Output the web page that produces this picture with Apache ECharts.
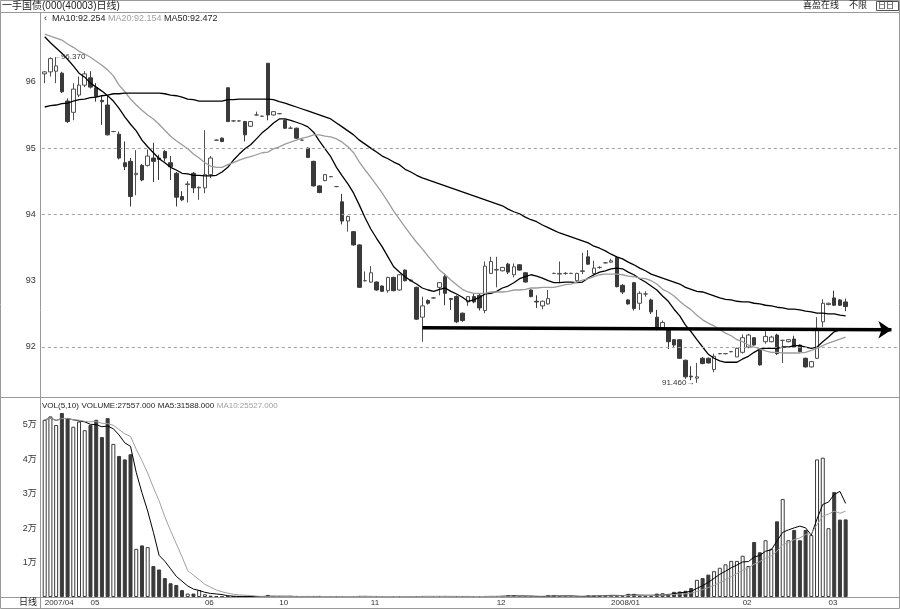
<!DOCTYPE html>
<html><head><meta charset="utf-8">
<script src="https://cdn.jsdelivr.net/npm/echarts@6/dist/echarts.min.js"></script>
<style>html,body{margin:0;padding:0;background:#fff}#c{width:900px;height:609px}</style>
</head><body><div id="c"></div>
<script>
// ---------- data ----------
const opens = [96.12,96.15,96.16,96.13,95.71,95.54,95.80,95.95,96.06,95.91,
95.72,95.65,95.25,95.21,94.78,94.80,94.60,94.74,94.74,94.85,
94.85,94.95,94.78,94.62,94.27,94.45,94.62,94.40,94.40,94.60,
95.12,95.15,95.91,95.41,95.41,95.40,95.33,95.50,95.48,96.28,
95.50,95.52,95.42,95.30,95.30,95.12,95.00,94.80,94.43,94.51,
94.57,94.42,94.19,93.90,93.74,93.54,93.00,92.98,92.98,92.92,
92.85,93.05,92.86,93.16,93.00,92.90,92.45,92.70,92.74,92.90,
93.06,92.73,92.76,92.51,92.68,92.76,92.78,92.55,93.11,93.16,
93.15,93.25,93.09,93.24,93.12,92.86,92.69,92.62,92.65,93.11,
93.10,93.11,93.11,93.00,93.14,93.36,93.11,93.20,93.27,93.28,
93.35,92.93,92.71,92.97,92.66,92.80,92.71,92.45,92.28,92.26,
92.11,92.11,91.80,91.56,91.53,91.83,91.83,91.66,91.90,91.90,
91.93,91.85,91.92,92.00,92.14,91.95,92.08,92.08,92.18,92.10,
92.08,92.12,92.03,91.83,91.70,91.83,92.38,92.64,92.74,92.71,
92.68];
const closes = [96.15,96.35,96.24,95.85,95.40,95.89,95.95,96.12,95.92,95.78,
95.70,95.20,95.25,94.85,94.72,94.27,94.62,94.52,94.88,94.80,
94.83,94.85,94.72,94.26,94.22,94.46,94.40,94.41,94.60,94.85,
95.12,95.10,95.40,95.41,95.41,95.20,95.40,95.50,95.48,95.50,
95.55,95.52,95.30,95.30,95.15,95.12,94.86,94.43,94.33,94.60,
94.57,94.42,93.90,93.97,93.54,92.90,93.00,93.12,92.86,92.84,
93.05,92.85,93.09,93.00,93.01,92.42,92.62,92.66,92.74,92.97,
92.81,92.72,92.38,92.40,92.76,92.68,92.59,93.22,93.29,93.17,
93.20,93.13,93.21,93.16,92.98,92.76,92.68,92.69,92.73,93.11,
93.11,93.11,93.11,93.11,93.15,93.25,93.19,93.20,93.27,93.30,
92.91,92.83,92.65,92.58,92.81,92.80,92.53,92.28,92.37,92.08,
92.03,91.83,91.55,91.55,91.55,91.75,91.76,91.86,91.90,91.90,
91.93,91.98,92.14,92.18,92.03,91.73,92.16,92.15,91.90,92.10,
92.11,92.00,91.93,91.70,91.78,92.26,92.66,92.66,92.63,92.63,
92.61];
const lows = [95.98,96.08,95.98,95.83,95.38,95.42,95.77,95.92,95.90,95.70,
95.35,95.19,95.24,94.83,94.67,94.12,94.29,94.50,94.72,94.49,
94.52,94.80,94.52,94.12,94.20,94.18,94.32,94.22,94.32,94.55,
95.11,95.09,95.40,95.40,95.40,95.10,95.32,95.49,95.47,95.42,
95.49,95.51,95.29,95.29,95.14,95.11,94.85,94.42,94.32,94.50,
94.56,94.41,93.85,93.74,93.53,92.89,92.99,92.97,92.85,92.83,
92.82,92.84,92.85,92.99,92.99,92.41,92.08,92.64,92.73,92.78,
92.63,92.56,92.36,92.38,92.62,92.66,92.55,92.51,93.10,92.90,
93.14,93.10,93.05,93.15,92.97,92.75,92.59,92.57,92.64,93.10,
92.97,93.09,93.10,92.98,93.10,93.24,93.08,93.18,93.26,93.27,
92.90,92.80,92.64,92.55,92.56,92.76,92.50,92.25,92.27,91.97,
92.00,91.82,91.52,91.50,91.46,91.74,91.75,91.62,91.89,91.89,
91.92,91.85,91.90,91.98,92.02,91.72,92.05,92.07,91.88,91.76,
92.07,91.99,91.92,91.69,91.69,91.82,92.30,92.63,92.62,92.62,
92.54];
const highs = [96.16,96.37,96.36,96.15,95.75,95.98,96.08,96.16,96.16,95.98,
95.80,95.80,95.26,95.25,95.10,94.85,94.97,94.76,94.98,95.08,
94.90,94.97,94.88,94.64,94.35,94.50,94.64,94.42,95.27,94.88,
95.13,95.16,95.92,95.42,95.42,95.41,95.41,95.55,95.49,96.28,
95.56,95.53,95.43,95.33,95.31,95.13,95.01,94.81,94.44,94.61,
94.58,94.43,94.31,93.98,93.75,93.55,93.14,93.22,92.99,92.93,
93.06,93.06,93.10,93.17,93.02,92.91,92.76,92.72,92.75,92.98,
93.11,92.74,92.78,92.52,92.77,92.80,92.80,93.29,93.36,93.36,
93.21,93.27,93.26,93.25,93.13,92.87,92.78,92.70,92.86,93.12,
93.29,93.13,93.12,93.12,93.42,93.46,93.30,93.22,93.28,93.33,
93.37,92.95,92.72,92.98,92.84,92.84,92.73,92.56,92.40,92.27,
92.12,92.12,91.81,91.71,91.76,91.85,91.84,91.90,91.91,91.91,
91.94,91.99,92.19,92.20,92.15,91.96,92.24,92.17,92.20,92.11,
92.12,92.17,92.04,91.84,91.79,92.45,92.72,92.67,92.85,92.72,
92.73];
const ma10 = [96.68,96.59,96.51,96.43,96.34,96.24,96.13,96.07,95.98,95.92,
95.86,95.79,95.71,95.60,95.47,95.36,95.26,95.12,95.02,94.93,
94.84,94.78,94.71,94.67,94.62,94.61,94.59,94.59,94.58,94.58,
94.59,94.64,94.71,94.82,94.91,94.99,95.05,95.14,95.23,95.30,
95.38,95.44,95.44,95.42,95.39,95.36,95.32,95.24,95.11,94.99,
94.87,94.71,94.58,94.46,94.32,94.14,93.95,93.78,93.64,93.51,
93.36,93.21,93.13,93.06,93.00,92.95,92.89,92.86,92.84,92.87,
92.89,92.84,92.80,92.75,92.69,92.71,92.75,92.80,92.81,92.84,
92.89,92.92,92.97,93.03,93.06,93.09,93.07,93.04,93.00,92.97,
92.97,92.98,92.98,92.97,92.98,93.04,93.09,93.13,93.15,93.18,
93.19,93.18,93.13,93.09,93.03,92.98,92.92,92.86,92.77,92.69,
92.57,92.47,92.33,92.23,92.11,92.00,91.89,91.83,91.79,91.77,
91.77,91.77,91.82,91.86,91.92,91.97,91.98,91.98,91.98,92.00,
92.00,92.02,92.02,92.00,91.98,92.00,92.08,92.15,92.23,92.26,
92.25];
const ma20 = [96.72,96.69,96.66,96.63,96.57,96.52,96.46,96.42,96.37,96.31,
96.25,96.18,96.09,95.95,95.85,95.74,95.65,95.57,95.50,95.44,
95.36,95.27,95.18,95.11,95.05,94.99,94.91,94.85,94.78,94.73,
94.71,94.71,94.75,94.78,94.82,94.85,94.87,94.90,94.93,94.94,
94.99,95.02,95.06,95.09,95.12,95.15,95.17,95.20,95.20,95.18,
95.17,95.14,95.09,95.02,94.93,94.79,94.67,94.56,94.44,94.32,
94.19,94.05,93.93,93.81,93.69,93.58,93.48,93.37,93.27,93.16,
93.09,93.01,92.94,92.87,92.83,92.81,92.81,92.81,92.83,92.83,
92.83,92.84,92.86,92.86,92.87,92.89,92.89,92.90,92.90,92.90,
92.92,92.94,92.95,92.98,93.01,93.03,93.06,93.09,93.10,93.10,
93.10,93.09,93.07,93.06,93.04,93.03,93.00,92.95,92.87,92.83,
92.77,92.69,92.62,92.56,92.48,92.41,92.36,92.32,92.26,92.21,
92.17,92.11,92.08,92.03,92.00,91.97,91.94,91.92,91.92,91.91,
91.91,91.91,91.91,91.92,91.95,91.98,92.02,92.06,92.09,92.12,
92.15];
const ma50 = [95.62,95.64,95.65,95.67,95.68,95.71,95.73,95.74,95.76,95.77,
95.79,95.80,95.82,95.82,95.83,95.83,95.83,95.83,95.83,95.83,
95.83,95.82,95.80,95.79,95.77,95.74,95.73,95.71,95.71,95.71,
95.71,95.71,95.73,95.73,95.74,95.74,95.74,95.74,95.74,95.74,
95.73,95.70,95.68,95.65,95.62,95.59,95.56,95.53,95.50,95.47,
95.44,95.38,95.32,95.26,95.20,95.12,95.06,95.00,94.94,94.88,
94.84,94.79,94.75,94.68,94.64,94.59,94.55,94.52,94.49,94.46,
94.43,94.40,94.37,94.34,94.31,94.28,94.25,94.22,94.19,94.16,
94.13,94.08,94.04,94.01,93.96,93.92,93.89,93.84,93.80,93.76,
93.72,93.69,93.66,93.63,93.60,93.57,93.52,93.49,93.45,93.40,
93.36,93.33,93.28,93.24,93.19,93.15,93.10,93.07,93.04,93.01,
92.98,92.95,92.90,92.87,92.84,92.83,92.80,92.77,92.74,92.72,
92.71,92.69,92.68,92.68,92.66,92.65,92.63,92.62,92.60,92.59,
92.57,92.57,92.56,92.54,92.53,92.51,92.51,92.50,92.50,92.48,
92.47];
const volumes = [51500,52500,50000,53500,52000,49500,51000,48500,50000,51500,
46500,52000,44500,41000,40000,41500,14000,15000,14500,9000,
8000,5500,4000,3500,2000,1000,1000,2000,800,400,
200,150,300,100,100,200,100,150,100,600,
100,100,150,100,150,100,150,200,150,100,
100,100,200,150,150,250,150,100,100,100,
100,150,100,150,100,200,250,150,100,150,
200,150,150,100,150,100,150,250,200,150,
300,500,500,100,100,100,100,200,600,600,
150,150,150,150,150,500,500,500,400,500,
400,300,900,900,200,200,300,1000,1100,900,
1500,1600,1800,2600,5000,5500,6500,7500,8500,9500,
10500,10500,12000,9000,16000,13000,16500,14000,22000,28500,
16500,19500,16500,19500,18000,40000,40500,20000,30500,22500,
22557];
const priceTicks = [92, 93, 94, 95, 96];
const priceGridLines = [92, 94, 95];
const volTicks = [10000, 20000, 30000, 40000, 50000];
const dateTickIndex = [0, 8, 28, 41, 57, 79, 99, 122, 137];
const dateTickText = ['2007/04', '05', '06', '10', '11', '12', '2008/01', '02', '03'];
const maLegend = ['MA10:92.254', 'MA20:92.154', 'MA50:92.472'];
const volLegend = ['VOL(5,10)', 'VOLUME:27557.000', 'MA5:31588.000', 'MA10:25527.000'];
const trendArrow = [[66, 92.29], [148, 92.26]];
const highMark = [1, 96.37, '96.370'];
const lowMark = [114, 91.46, '91.460'];
const padCount = 9;
const titleText = '一手国债(000(40003)日线)';

// ---------- build ----------
const N = opens.length;
const cats = [];
for (let i = 0; i < N + padCount; i++) cats.push(String(i));
const padArr = a => a.concat(new Array(padCount).fill('-'));
const candleData = opens.map((o, i) => [o, closes[i], lows[i], highs[i]]);
function movingAvg(arr, n) {
  return arr.map((_, i) => {
    const s = Math.max(0, i - n + 1); let t = 0;
    for (let k = s; k <= i; k++) t += arr[k];
    return +(t / (i - s + 1)).toFixed(1);
  });
}
const volMA5 = movingAvg(volumes, 5), volMA10 = movingAvg(volumes, 10);
const DARK = '#3a3a3a';
const volData = volumes.map((v, i) => {
  const up = closes[i] >= opens[i];
  return { value: v, itemStyle: { color: up ? '#ffffff' : DARK, borderColor: DARK, borderWidth: 1 } };
});
const FONT = '"Liberation Sans","Noto Sans CJK SC",sans-serif';
const GL = 41.84;
const chart = echarts.init(document.getElementById('c'), null, { renderer: 'canvas' });
const line = (x1, y1, x2, y2, c) => ({ type: 'line', silent: true, z: 50, shape: { x1, y1, x2, y2 }, style: { stroke: c || '#9a9a9a', lineWidth: 1 } });
const txt = (x, y, t, o) => ({ type: 'text', silent: true, z: 60, x, y, style: Object.assign({ text: t, fill: '#222', font: '9px ' + FONT, textVerticalAlign: 'middle' }, o || {}) });

chart.setOption({
  animation: false,
  backgroundColor: '#fff',
  grid: [
    { left: GL, right: 0, top: 12, height: 385 },
    { left: GL, right: 0, top: 398, height: 199 }
  ],
  xAxis: [
    { type: 'category', gridIndex: 0, data: cats, boundaryGap: true, axisLine: { show: false }, axisTick: { show: false }, axisLabel: { show: false }, splitLine: { show: false } },
    { type: 'category', gridIndex: 1, data: cats, boundaryGap: true, axisLine: { show: false }, axisTick: { show: false }, splitLine: { show: false },
      axisLabel: { show: true, interval: (idx) => dateTickIndex.indexOf(idx) >= 0,
        formatter: (v) => { const k = dateTickIndex.indexOf(parseInt(v, 10)); return k >= 0 ? dateTickText[k] : ''; },
        align: 'left', margin: 2, fontSize: 8, color: '#333', fontFamily: FONT } }
  ],
  yAxis: [
    { type: 'value', gridIndex: 0, min: 91.246, max: 97.053, axisLine: { show: false }, axisTick: { show: false }, splitLine: { show: false },
      axisLabel: { customValues: priceTicks, fontSize: 9, color: '#333', margin: 6, fontFamily: FONT } },
    { type: 'value', gridIndex: 1, min: 0, max: 57849, axisLine: { show: false }, axisTick: { show: false }, splitLine: { show: false },
      axisLabel: { customValues: volTicks, formatter: v => (v / 10000) + '万', fontSize: 9, color: '#333', margin: 5, fontFamily: FONT } }
  ],
  series: [
    { type: 'candlestick', xAxisIndex: 0, yAxisIndex: 0, data: candleData, barWidth: 4,
      itemStyle: { color: '#ffffff', color0: DARK, borderColor: '#505050', borderColor0: DARK, borderColorDoji: '#505050', borderWidth: 1 },
      markLine: { silent: true, symbol: ['none', 'arrow'], symbolSize: 13, label: { show: false },
        lineStyle: { color: '#000', width: 3.5, type: 'solid' },
        data: [[{ coord: [trendArrow[0][0], trendArrow[0][1]] }, { coord: [trendArrow[1][0], trendArrow[1][1]] }]] },
      markPoint: { symbol: 'circle', symbolSize: 1, itemStyle: { color: 'rgba(0,0,0,0)' },
        label: { show: true, fontSize: 8, color: '#333', fontFamily: FONT },
        data: [
          { coord: [highMark[0], highMark[1]], label: { formatter: '\u2190' + highMark[2], position: 'right', distance: 2 } },
          { coord: [lowMark[0], lowMark[1]], label: { formatter: lowMark[2] + '\u2192', position: 'left', distance: 2 } }
        ] } },
    { type: 'line', name: 'MA10', xAxisIndex: 0, yAxisIndex: 0, data: padArr(ma10), symbol: 'none', lineStyle: { color: '#000', width: 1.3 }, z: 3 },
    { type: 'line', name: 'MA20', xAxisIndex: 0, yAxisIndex: 0, data: padArr(ma20), symbol: 'none', lineStyle: { color: '#9c9c9c', width: 1.3 }, z: 3 },
    { type: 'line', name: 'MA50', xAxisIndex: 0, yAxisIndex: 0, data: padArr(ma50), symbol: 'none', lineStyle: { color: '#000', width: 1.3 }, z: 3,
      markLine: { silent: true, symbol: 'none', label: { show: false }, lineStyle: { color: '#a0a0a0', width: 1, type: [3, 3] },
        data: priceGridLines.map(v => ({ yAxis: v })) } },
    { type: 'bar', xAxisIndex: 1, yAxisIndex: 1, data: volData, barWidth: 4 },
    { type: 'line', name: 'VMA5', xAxisIndex: 1, yAxisIndex: 1, data: padArr(volMA5), symbol: 'none', lineStyle: { color: '#000', width: 1 }, z: 3 },
    { type: 'line', name: 'VMA10', xAxisIndex: 1, yAxisIndex: 1, data: padArr(volMA10), symbol: 'none', lineStyle: { color: '#a0a0a0', width: 1 }, z: 3 }
  ],
  graphic: [
    { type: 'rect', silent: true, z: 50, shape: { x: 0.5, y: 0.5, width: 899, height: 608 }, style: { fill: 'none', stroke: '#9a9a9a', lineWidth: 1 } },
    line(0, 12.5, 900, 12.5),
    line(40.5, 12, 40.5, 609),
    line(0, 397.5, 900, 397.5),
    line(0, 597.5, 900, 597.5),
    txt(2, 6, titleText, { font: '10px ' + FONT }),
    txt(803, 6, '喜盈在线', { font: '9px ' + FONT }),
    txt(849, 6, '不限', { font: '9px ' + FONT }),
    { type: 'rect', silent: true, z: 50, shape: { x: 876.5, y: 1.5, width: 22, height: 9 }, style: { fill: 'none', stroke: '#555', lineWidth: 1 } },
    txt(878, 6, '日日', { font: '8px ' + FONT }),
    txt(44, 19, '\u2039', { font: '9px ' + FONT }),
    txt(52, 19, '', { text: '{a|' + maLegend[0] + '} {b|' + maLegend[1] + '} {a|' + maLegend[2] + '}',
      rich: { a: { fill: '#222', font: '9px ' + FONT }, b: { fill: '#a0a0a0', font: '9px ' + FONT } } }),
    txt(42, 406, '', { text: '{a|' + volLegend[0] + '} {a|' + volLegend[1] + '} {a|' + volLegend[2] + '} {b|' + volLegend[3] + '}',
      rich: { a: { fill: '#222', font: '8px ' + FONT }, b: { fill: '#a0a0a0', font: '8px ' + FONT } } }),
    txt(37, 603, '日线', { font: '9px ' + FONT, textAlign: 'right' })
  ]
});
</script></body></html>
